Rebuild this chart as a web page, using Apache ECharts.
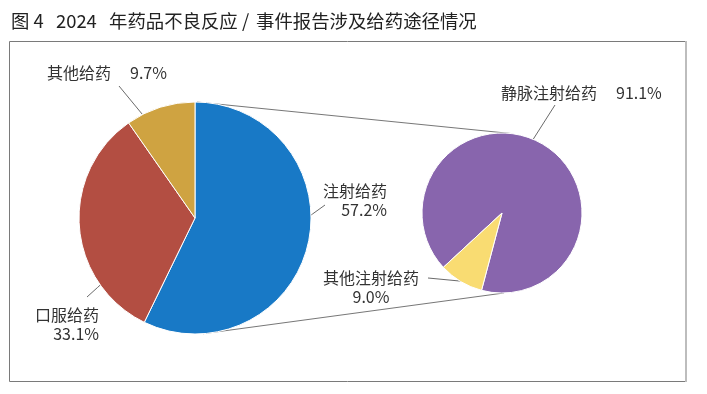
<!DOCTYPE html>
<html><head><meta charset="utf-8">
<script src="https://cdn.jsdelivr.net/npm/echarts@6/dist/echarts.min.js"></script>
<style>html,body{margin:0;padding:0;background:#fff}#c{width:707px;height:394px}</style>
</head><body><div id="c"></div>
<script>
// ---- data ----
const titleParts = ['图 4', '2024', '年药品不良反应', '/', '事件报告涉及给药途径情况'];
const mainCategories = ['注射给药', '口服给药', '其他给药'];
const mainValues = [57.2, 33.1, 9.7];
const subCategories = ['静脉注射给药', '其他注射给药'];
const subValues = [91.1, 9.0];

// ---- style / layout ----
const mainColors = ['#1879c6', '#b34e42', '#cfa341'];
const subColors = ['#8865ad', '#f9dc72'];
const FONT = '"Noto Sans CJK SC", "Noto Sans", sans-serif';
const TEXT_COLOR = '#333';
const MAIN = {cx: 195, cy: 218, r: 116, startAngle: 90};
const SUB = {cx: 502, cy: 213, r: 80, startAngle: 222.8};
const titleWidths = [45, 53, 126, 21, null];

const mainLabels = [
  {style: 'stack', x: 387, y: 200.5, align: 'right', line: [[300, 223], [325, 205]]},
  {style: 'stack', x: 99, y: 324.5, align: 'right', line: [[108, 278], [87, 297]]},
  {style: 'inline', x: 47, y: 73, align: 'left', line: [[147, 120], [119, 86]]}
];
const subLabels = [
  {style: 'inline', x: 501, y: 93, align: 'left', line: [[527, 149], [555, 105]]},
  {style: 'stack', x: 371, y: 287, align: 'center', line: [[470, 282], [428, 278]]}
];

function polar(c, r, deg) { // deg: clockwise from 12 o'clock
  const a = deg * Math.PI / 180;
  return [c.cx + r * Math.sin(a), c.cy - r * Math.cos(a)];
}

function makeSeries(cats, vals, colors, geo, labels) {
  return {
    type: 'pie',
    center: [geo.cx, geo.cy],
    radius: geo.r,
    startAngle: geo.startAngle,
    clockwise: true,
    avoidLabelOverlap: false,
    silent: true,
    z: 3,
    itemStyle: {borderColor: '#fff', borderWidth: 1},
    label: {
      show: true,
      position: 'outside',
      fontFamily: FONT,
      fontSize: 16,
      lineHeight: 19,
      color: TEXT_COLOR,
      formatter: function (p) {
        const cfg = labels[p.dataIndex];
        const v = vals[p.dataIndex].toFixed(1) + '%';
        return cfg.style === 'inline' ? '{n|' + p.name + '}{v|' + v + '}' : p.name + '\n' + v;
      },
      rich: {
        n: {fontFamily: FONT, fontSize: 16, color: TEXT_COLOR},
        v: {fontFamily: FONT, fontSize: 16, color: TEXT_COLOR, padding: [0, 0, 0, 19]}
      }
    },
    labelLine: {show: true, lineStyle: {color: '#444', width: 0.8}},
    labelLayout: function (params) {
      const cfg = labels[params.dataIndex];
      const s = cfg.line[0], e = cfg.line[1];
      const m = [(s[0] + e[0]) / 2, (s[1] + e[1]) / 2];
      return {x: cfg.x, y: cfg.y, align: cfg.align, verticalAlign: 'middle', labelLinePoints: [s, m, e]};
    },
    data: cats.map((n, i) => ({name: n, value: vals[i], itemStyle: {color: colors[i]}}))
  };
}

const titleRich = {};
titleParts.forEach((t, i) => {
  const st = {fontFamily: FONT, fontSize: 18.4, color: '#222', lineHeight: 22, align: i === 3 ? 'center' : 'left'};
  if (titleWidths[i] != null) st.width = titleWidths[i];
  titleRich['t' + i] = st;
});
const titleText = titleParts.map((t, i) => '{t' + i + '|' + t + '}').join('');

const topA = polar(MAIN, MAIN.r, 1), topB = polar(SUB, SUB.r, 7);
const botA = polar(MAIN, MAIN.r, 176), botB = polar(SUB, SUB.r, 178.5);

const chart = echarts.init(document.getElementById('c'), null, {renderer: 'canvas'});
chart.setOption({
  animation: false,
  backgroundColor: '#fff',
  title: {
    text: titleText, left: 11, top: 10, padding: 0,
    textStyle: {fontFamily: FONT, fontSize: 18.4, fontWeight: 'normal', color: '#222', rich: titleRich}
  },
  graphic: [
    {type: 'rect', z: 0, shape: {x: 9.5, y: 41.5, width: 676, height: 340},
      style: {fill: 'none', stroke: '#7a7a7a', lineWidth: 1}},
    {type: 'line', z: 0, shape: {x1: 686, y1: 41, x2: 686, y2: 382},
      style: {stroke: '#bdbdbd', lineWidth: 2}},
    {type: 'line', z: 0, shape: {x1: topA[0], y1: topA[1], x2: topB[0], y2: topB[1]},
      style: {stroke: '#777', lineWidth: 1}},
    {type: 'line', z: 0, shape: {x1: botA[0], y1: botA[1], x2: botB[0], y2: botB[1]},
      style: {stroke: '#777', lineWidth: 1}}
  ],
  series: [
    makeSeries(mainCategories, mainValues, mainColors, MAIN, mainLabels),
    makeSeries(subCategories, subValues, subColors, SUB, subLabels)
  ]
});
</script></body></html>
